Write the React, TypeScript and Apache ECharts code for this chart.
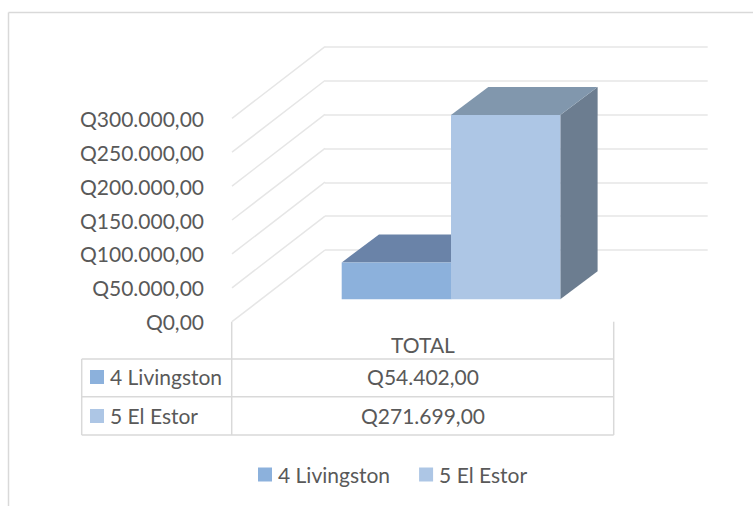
import React, { useEffect, useRef } from "react";
import * as echarts from "echarts";

const categories = ["TOTAL"];
const livingstonName = "4 Livingston";
const elEstorName = "5 El Estor";
const livingstonValues = [54402];
const elEstorValues = [271699];
const axisTicks = [0, 50000, 100000, 150000, 200000, 250000, 300000];

const FONT = "Lato";
const FONT_SIZE = 21;
const TEXT = "#595959";
const RULE = "#d9d9d9";
const GRIDLINE = "#e6e6e6";

const fmtQ = (n: number) =>
  "Q" + n.toFixed(2).replace(".", ",").replace(/\B(?=(\d{3})+(?!\d))/g, ".");

const BAR_W = 109.3;
const BAR_SHIFT_X = 28;
const BAR_SHIFT_Y = 22.4;
const DEPTH_X = 37.3;
const DEPTH_Y = 28;

const barRenderer =
  (side: number, front: string, top: string, right: string) => (_params: any, api: any) => {
    const p = api.coord([api.value(0), api.value(1)]);
    const z = api.coord([api.value(0), 0]);
    const x0 = p[0] + BAR_SHIFT_X + (side - 1) * BAR_W;
    const x1 = x0 + BAR_W;
    const yT = p[1] - BAR_SHIFT_Y;
    const yB = z[1] - BAR_SHIFT_Y;
    return {
      type: "group",
      children: [
        {
          type: "polygon",
          shape: { points: [[x1, yT], [x1 + DEPTH_X, yT - DEPTH_Y], [x1 + DEPTH_X, yB - DEPTH_Y], [x1, yB]] },
          style: { fill: right },
        },
        {
          type: "polygon",
          shape: { points: [[x0, yT], [x1, yT], [x1 + DEPTH_X, yT - DEPTH_Y], [x0 + DEPTH_X, yT - DEPTH_Y]] },
          style: { fill: top },
        },
        {
          type: "rect",
          shape: { x: x0, y: yT, width: BAR_W, height: yB - yT },
          style: { fill: front },
        },
      ],
    };
  };

const diagonalRenderer = (params: any, api: any) => {
  const p = api.coord([0, api.value(1)]);
  const x = params.coordSys.x;
  return {
    type: "line",
    shape: { x1: x, y1: p[1], x2: x + 93, y2: p[1] - 71.7 },
    style: { stroke: GRIDLINE, lineWidth: 1.5 },
  };
};

const rule = (x1: number, y1: number, x2: number, y2: number) => ({
  type: "line",
  shape: { x1, y1, x2, y2 },
  style: { stroke: RULE, lineWidth: 1.5 },
});

const label = (text: string, x: number, y: number, align: string) => ({
  type: "text",
  x,
  y,
  style: { text, fill: TEXT, font: `${FONT_SIZE}px ${FONT}`, align, verticalAlign: "middle" },
});

const swatch = (x: number, y: number, fill: string) => ({
  type: "rect",
  shape: { x, y, width: 14, height: 14 },
  style: { fill },
});

const COLOR_A = "#8cb1dc";
const COLOR_B = "#adc6e5";

export default function App() {
  const ref = useRef<HTMLDivElement>(null);
  useEffect(() => {
    document.body.style.margin = "0";
    document.body.style.background = "#fff";
    const chart = echarts.init(ref.current!, undefined, { renderer: "svg" });
    chart.setOption({
      animation: false,
      backgroundColor: "#ffffff",
      textStyle: { fontFamily: FONT },
      grid: [
        { left: 232, top: 118.3, width: 382, height: 203.4 },
        { left: 325, top: 47, width: 382.7, height: 203 },
      ],
      xAxis: [
        {
          type: "category",
          gridIndex: 0,
          data: categories,
          axisLine: { show: false },
          axisTick: { show: false },
          axisLabel: { color: TEXT, fontSize: FONT_SIZE, fontFamily: FONT, margin: 12 },
        },
        { type: "category", gridIndex: 1, data: categories, show: false },
      ],
      yAxis: [
        {
          type: "value",
          gridIndex: 0,
          min: 0,
          max: 300000,
          interval: 50000,
          axisLine: { show: false },
          axisTick: { show: false },
          splitLine: { show: false },
          axisLabel: {
            color: TEXT,
            fontSize: FONT_SIZE,
            fontFamily: FONT,
            margin: 28,
            formatter: (v: number) => fmtQ(v),
          },
        },
        {
          type: "value",
          gridIndex: 1,
          min: 0,
          max: 300000,
          interval: 50000,
          axisLine: { show: false },
          axisTick: { show: false },
          axisLabel: { show: false },
          splitLine: { show: true, lineStyle: { color: GRIDLINE, width: 1.5 } },
        },
      ],
      legend: {
        data: [livingstonName, elEstorName],
        left: 258,
        top: 464,
        icon: "rect",
        itemWidth: 14,
        itemHeight: 14,
        itemGap: 29,
        textStyle: { color: TEXT, fontSize: FONT_SIZE, fontFamily: FONT, padding: [0, 0, 0, 1] },
        selectedMode: false,
        padding: 0,
      },
      series: [
        {
          type: "custom",
          xAxisIndex: 0,
          yAxisIndex: 0,
          silent: true,
          clip: false,
          z: 1,
          data: axisTicks.map((t) => [0, t]),
          encode: { x: 0, y: 1 },
          renderItem: diagonalRenderer,
        },
        {
          type: "custom",
          name: livingstonName,
          xAxisIndex: 0,
          yAxisIndex: 0,
          clip: false,
          z: 3,
          itemStyle: { color: COLOR_A },
          data: livingstonValues.map((v, i) => [i, v]),
          encode: { x: 0, y: 1 },
          renderItem: barRenderer(0, COLOR_A, "#6a83a8", "#5f7b9f"),
        },
        {
          type: "custom",
          name: elEstorName,
          xAxisIndex: 0,
          yAxisIndex: 0,
          clip: false,
          z: 4,
          itemStyle: { color: COLOR_B },
          data: elEstorValues.map((v, i) => [i, v]),
          encode: { x: 0, y: 1 },
          renderItem: barRenderer(1, COLOR_B, "#8197ad", "#6c7d90"),
        },
      ],
      graphic: [
        rule(8.5, 12.5, 8.5, 506),
        rule(8.5, 12.5, 753, 12.5),
        rule(231.7, 321.7, 231.7, 435),
        rule(613.7, 321.7, 613.7, 435),
        rule(81.7, 359, 613.7, 359),
        rule(81.7, 396.8, 613.7, 396.8),
        rule(81.7, 435, 613.7, 435),
        rule(81.7, 359, 81.7, 435),
        swatch(90, 370, COLOR_A),
        swatch(90, 409, COLOR_B),
        label(livingstonName, 110, 376.5, "left"),
        label(elEstorName, 110, 415, "left"),
        label(fmtQ(livingstonValues[0]), 423, 376.5, "center"),
        label(fmtQ(elEstorValues[0]), 423, 415, "center"),
      ],
    });
    return () => chart.dispose();
  }, []);
  return <div ref={ref} style={{ width: 753, height: 506 }} />;
}
